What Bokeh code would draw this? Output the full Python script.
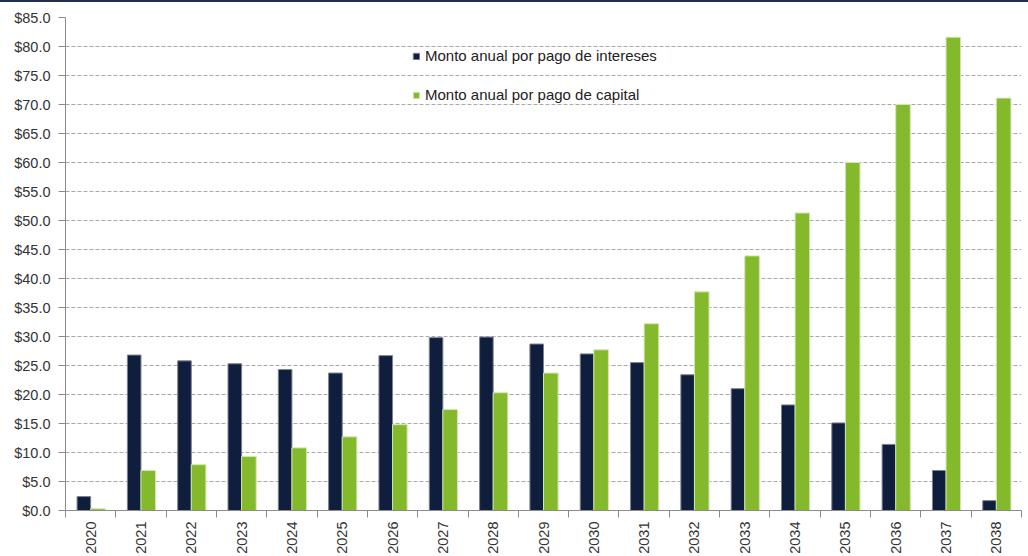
import numpy as np
from bokeh.plotting import figure
from bokeh.models import (ColumnDataSource, FixedTicker, SingleIntervalTicker,
                          NumeralTickFormatter, Range1d, Legend, LegendItem)
from bokeh.embed import file_html
from bokeh.resources import INLINE

years = [str(y) for y in range(2020, 2039)]
intereses = [2.4, 26.8, 25.8, 25.3, 24.3, 23.7, 26.7, 29.8, 29.9, 28.7,
             27.0, 25.5, 23.4, 21.0, 18.2, 15.1, 11.4, 6.9, 1.7]
capital = [0.3, 6.9, 7.9, 9.3, 10.8, 12.7, 14.8, 17.4, 20.3, 23.7,
           27.7, 32.2, 37.7, 43.9, 51.3, 60.0, 70.0, 81.6, 71.1]
label_int = "Monto anual por pago de intereses"
label_cap = "Monto anual por pago de capital"

FONT = "Liberation Sans"
NAVY = "#0e1e3c"
GREEN = "#84b92c"

pos = np.arange(len(years)) + 0.5
src = ColumnDataSource(dict(
    x_int=pos - 0.135, x_cap=pos + 0.145,
    intereses=intereses, capital=capital, year=years))

p = figure(width=1028, height=554, output_backend="svg", toolbar_location=None,
           x_range=Range1d(0, len(years)), y_range=Range1d(0, 85),
           min_border_left=65, min_border_right=7, min_border_top=15,
           min_border_bottom=45, outline_line_color=None,
           styles={"border-top": "2px solid #22304f"})

r1 = p.vbar(x="x_int", top="intereses", width=0.27, source=src,
            fill_color=NAVY, line_color="#7d8290", line_width=1)
r2 = p.vbar(x="x_cap", top="capital", width=0.29, source=src,
            fill_color=GREEN, line_color="#d2e6b4", line_width=1)

p.xgrid.grid_line_color = None
p.ygrid.grid_line_color = "#a8a8a8"
p.ygrid.grid_line_dash = "4 2"
p.ygrid.grid_line_width = 1

p.yaxis.ticker = SingleIntervalTicker(interval=5)
p.yaxis.formatter = NumeralTickFormatter(format="$0.0")
p.yaxis.minor_tick_line_color = None
p.yaxis.major_tick_out = 7
p.yaxis.major_tick_in = 0
p.yaxis.axis_line_color = "#8c8c8c"
p.yaxis.major_tick_line_color = "#8c8c8c"
p.yaxis.major_label_text_font = FONT
p.yaxis.major_label_text_font_size = "14.5px"
p.yaxis.major_label_text_color = "#333333"
p.yaxis.major_label_standoff = 8

p.xaxis.ticker = FixedTicker(ticks=list(pos), minor_ticks=list(range(len(years) + 1)))
p.xaxis.major_label_overrides = {float(x): y for x, y in zip(pos, years)}
p.xaxis.major_tick_out = 0
p.xaxis.major_tick_in = 0
p.xaxis.minor_tick_out = 7
p.xaxis.minor_tick_in = 0
p.xaxis.minor_tick_line_color = "#8c8c8c"
p.xaxis.axis_line_color = "#8c8c8c"
p.xaxis.major_label_orientation = np.pi / 2
p.xaxis.major_label_text_font = FONT
p.xaxis.major_label_text_font_size = "14.5px"
p.xaxis.major_label_text_color = "#333333"
p.xaxis.major_label_standoff = 4

legend = Legend(items=[LegendItem(label=label_int, renderers=[r1]),
                       LegendItem(label=label_cap, renderers=[r2])],
                location=(347, 407), border_line_color=None,
                background_fill_alpha=0, padding=0, spacing=22,
                glyph_width=8, glyph_height=8, label_height=15,
                label_standoff=5, margin=0,
                label_text_font=FONT, label_text_font_size="15px",
                label_text_color="#222222")
p.add_layout(legend)

open("out.html", "w").write(file_html(p, INLINE))
